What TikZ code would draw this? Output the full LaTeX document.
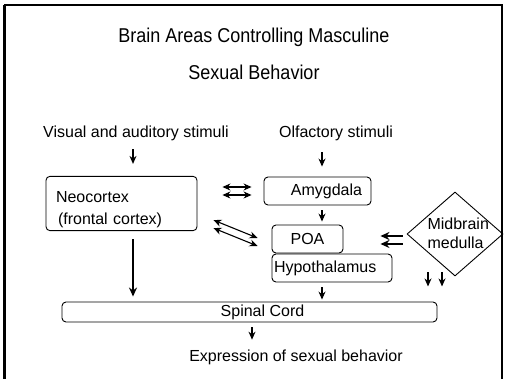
\documentclass[tikz,border=0pt]{standalone}
\usepackage{fontspec}
\setmainfont{Liberation Sans}
\newfontfamily\titlefont[FakeStretch=0.9]{Liberation Sans}
\usetikzlibrary{shapes.geometric, positioning, arrows.meta}

\begin{document}
\begin{tikzpicture}[x=1pt, y=-1pt, ->, >={Stealth[length=8pt, width=7pt]}, line width=1.1pt,
    font=\fontsize{16}{22}\selectfont,
    box/.style={draw, rounded corners=4pt, line width=0.9pt, inner sep=3pt},
    twin/.style={<->, line width=1.1pt},
    fat/.style={line width=2.4pt, >={Stealth[length=9pt, width=8pt]}}]
    \useasboundingbox (0,0) rectangle (506,379);
    % frame
    \draw[-, line width=1.2pt] (502,379) -- (502,5) -- (4,5);
    \draw[-, line width=3pt] (4,5) -- (4,379);

    \node[font=\titlefont\fontsize{20}{37}\selectfont, align=center] (title) at (254,53.5) {Brain Areas Controlling Masculine\\Sexual Behavior};
    \node (vis)  at (136,133) {Visual and auditory stimuli};
    \node (olf)  at (336,133) {Olfactory stimuli};
    \node[box, minimum height=53pt, text width=131pt, inner xsep=10pt, align=left] (neo) at (121.5,203.5) {\rule{0pt}{23pt}Neocortex\\\hspace*{2pt}(frontal cortex)};
    \node[box, minimum width=107pt, minimum height=28pt] (amyg) at (317.5,191) {\hspace*{18pt}Amygdala};
    \node[box, minimum width=71pt, minimum height=28pt] (poa)  at (307.5,239) {POA};
    \node[box, minimum height=28pt, text width=116pt, inner xsep=2pt, align=left] (hyp) at (332,268) {Hypothalamus};
    \node[box, minimum width=375pt, minimum height=20pt, inner sep=0pt] (spinal) at (249.5,312) {\hspace*{26pt}Spinal Cord};
    \node (expr) at (296,357) {Expression of sexual behavior};
    \node[diamond, draw, line width=0.9pt, minimum width=96pt, minimum height=84pt, inner sep=0pt] (mid) at (455,234) {};
    \node[align=left, anchor=west, inner xsep=0pt, font=\fontsize{16}{19}\selectfont] (midtxt) at (427,233) {Midbrain\\medulla};

    % stimuli
    \draw[shorten <=5pt, shorten >=12pt] ([xshift=-3pt]vis.south) -- ([xshift=-3pt]vis.south |- neo.north);
    \draw[shorten <=8pt, shorten >=10pt] ([xshift=-14pt]olf.south) -- ([xshift=-14pt]olf.south |- amyg.north);
    % vertical flow
    \draw[shorten <=5pt, shorten >=3pt] ([xshift=4.5pt]amyg.south) -- ([xshift=4.5pt]amyg.south |- poa.north);
    \draw[shorten <=5pt, shorten >=2pt] ([xshift=-10pt]hyp.south) -- ([xshift=-10pt]hyp.south |- spinal.north);
    \draw[fat, shorten <=8pt, shorten >=5pt] ([xshift=11.5pt]neo.south) -- ([xshift=11.5pt]neo.south |- spinal.north);
    \draw[shorten <=5pt, shorten >=6pt] ([xshift=2.5pt]spinal.south) -- ([xshift=2.5pt]spinal.south |- expr.north);
    % two-way links
    \draw[twin, shorten <=12pt, shorten >=25pt] ([yshift=4pt]amyg.west) -- ([yshift=4pt]amyg.west -| neo.east);
    \draw[twin, shorten <=12pt, shorten >=25pt] ([yshift=-4pt]amyg.west) -- ([yshift=-4pt]amyg.west -| neo.east);
    \draw[twin] ([xshift=16pt, yshift=11pt]neo.south east) -- ([xshift=-14pt, yshift=1pt]poa.west);
    \draw[twin] ([xshift=16pt, yshift=3pt]neo.south east) -- ([xshift=-14pt, yshift=-7pt]poa.west);
    % midbrain
    \draw[fat, shorten <=4pt, shorten >=37pt] ([yshift=-2pt]mid.west) -- ([yshift=-2pt]mid.west -| poa.east);
    \draw[fat, shorten <=4pt, shorten >=37pt] ([yshift=-10pt]mid.west) -- ([yshift=-10pt]mid.west -| poa.east);
    \draw ([xshift=-27pt, yshift=4pt]mid.south) -- ++(0,14);
    \draw ([xshift=-13pt, yshift=4pt]mid.south) -- ++(0,14);
\end{tikzpicture}
\end{document}
